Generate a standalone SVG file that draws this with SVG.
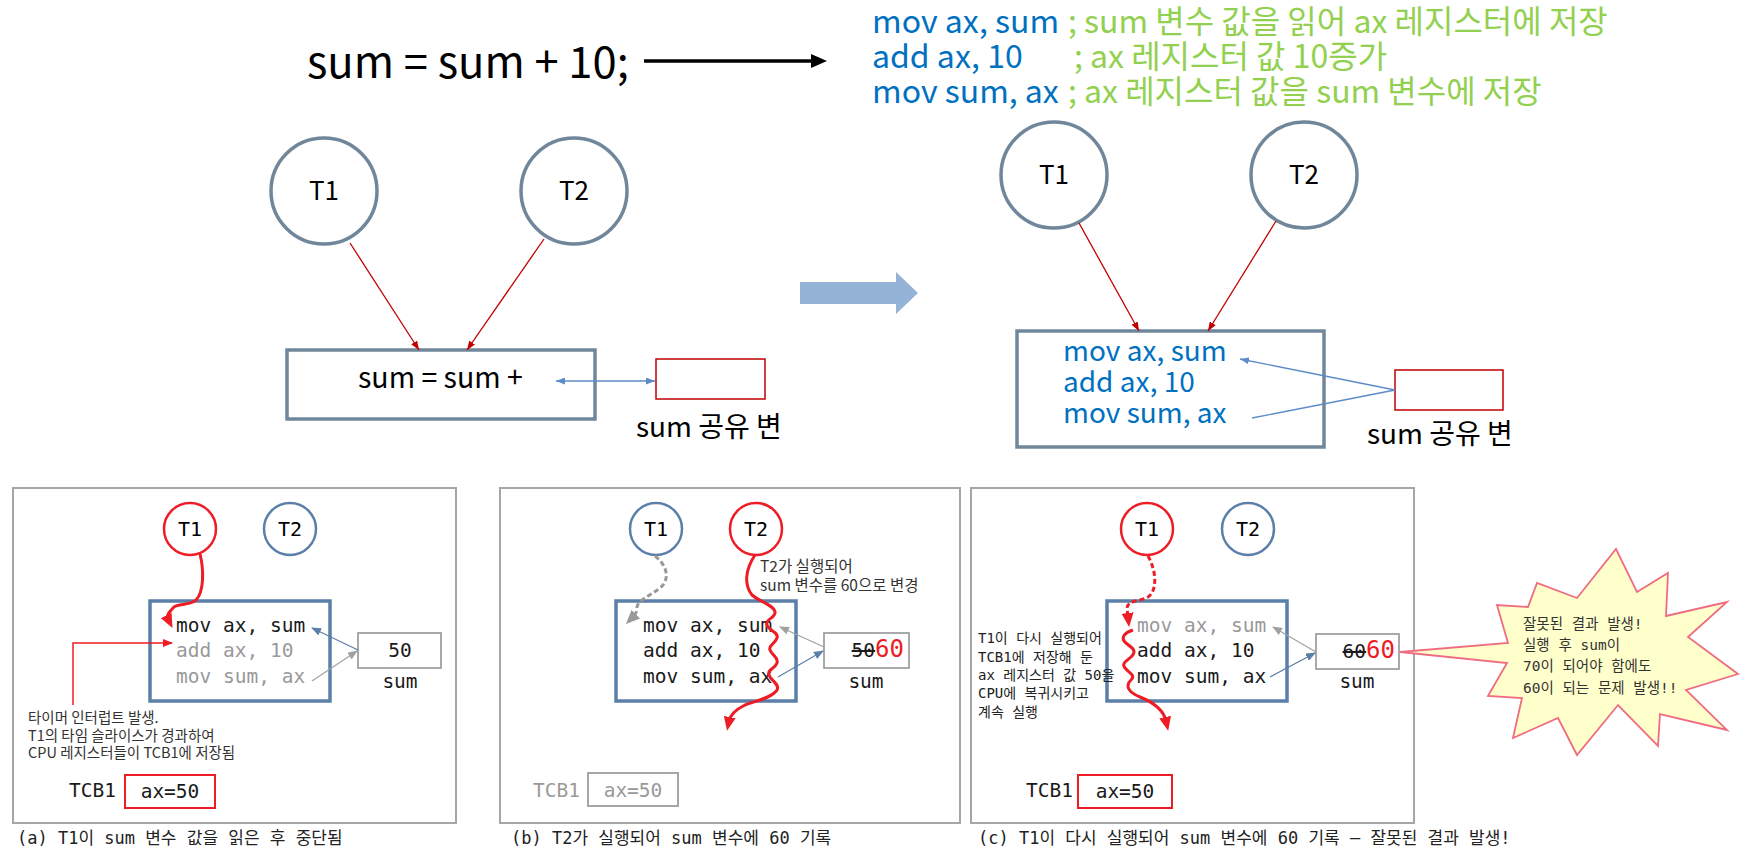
<svg xmlns="http://www.w3.org/2000/svg" width="1748" height="856" viewBox="0 0 1748 856">
<style>
.sans{font-family:"Noto Sans CJK KR","Noto Sans",sans-serif;}
.mono{font-family:"DejaVu Sans Mono","Noto Sans CJK KR",monospace;}
.bigc{fill:#fff;stroke:#70869A;stroke-width:3.5;}
.bigbox{fill:#fff;stroke:#70869A;stroke-width:3.5;}
.frame{fill:#fff;stroke:#A6A6A6;stroke-width:2;}
.cbox{fill:#fff;stroke:#5B7FA8;stroke-width:3.5;}
.rc{fill:#fff;stroke:#EE1C24;stroke-width:2.5;}
.bc{fill:#fff;stroke:#5B7FA8;stroke-width:2.5;}
.sbox{fill:#fff;stroke:#A0A0A0;stroke-width:1.8;}
.code{font-size:19.5px;fill:#1a1a1a;}
.dim{fill:#999;}
.blue{fill:#0070C0;}
.green{fill:#92D050;}
.note{fill:#333;}
</style>
<defs>
<marker id="blackArrow" viewBox="0 0 16 14" markerWidth="16" markerHeight="14" refX="4" refY="7" markerUnits="userSpaceOnUse" orient="auto"><path d="M0,0 L16,7 L0,14 z" fill="#000"/></marker>
<marker id="darkRed" viewBox="0 0 9 7" markerWidth="9" markerHeight="7" refX="9" refY="3.5" markerUnits="userSpaceOnUse" orient="auto"><path d="M0,0 L9,3.5 L0,7 z" fill="#C00000"/></marker>
<marker id="blueMid" viewBox="0 0 9 7" markerWidth="9" markerHeight="7" refX="9" refY="3.5" markerUnits="userSpaceOnUse" orient="auto-start-reverse"><path d="M0,0 L9,3.5 L0,7 z" fill="#5B8CC8"/></marker>
<marker id="redArrow" viewBox="0 0 14 12" markerWidth="14" markerHeight="12" refX="4" refY="6" markerUnits="userSpaceOnUse" orient="auto"><path d="M0,0 L14,6 L0,12 z" fill="#EE1C24"/></marker>
<marker id="grayArrow" viewBox="0 0 14 12" markerWidth="14" markerHeight="12" refX="4" refY="6" markerUnits="userSpaceOnUse" orient="auto"><path d="M0,0 L14,6 L0,12 z" fill="#999"/></marker>
<marker id="redSm" viewBox="0 0 10 8" markerWidth="10" markerHeight="8" refX="9" refY="4" markerUnits="userSpaceOnUse" orient="auto"><path d="M0,0 L10,4 L0,8 z" fill="#EE1C24"/></marker>
<marker id="blueSm" viewBox="0 0 10 8" markerWidth="10" markerHeight="8" refX="9" refY="4" markerUnits="userSpaceOnUse" orient="auto"><path d="M0,0 L10,4 L0,8 z" fill="#5B7FA8"/></marker>
<marker id="graySm" viewBox="0 0 10 8" markerWidth="10" markerHeight="8" refX="9" refY="4" markerUnits="userSpaceOnUse" orient="auto"><path d="M0,0 L10,4 L0,8 z" fill="#A0A0A0"/></marker>
</defs>
<rect width="1748" height="856" fill="#fff"/>

<!-- Top -->
<g id="top-statement">
<text class="sans" x="307" y="78" font-size="43.5" fill="#000">sum = sum + 10;</text>
</g>
<g id="top-code" class="sans" font-size="32">
<text x="872" y="33" class="blue">mov ax, sum</text>
<text x="1068" y="33" class="green">; sum 변수 값을 읽어 ax 레지스터에 저장</text>
<text x="872" y="68" class="blue">add ax, 10</text>
<text x="1074" y="68" class="green">; ax 레지스터 값 10증가</text>
<text x="872" y="103" class="blue">mov sum, ax</text>
<text x="1068" y="103" class="green">; ax 레지스터 값을 sum 변수에 저장</text>
</g>

<!-- Middle left -->
<g id="mid-left-T1"><circle class="bigc" cx="324" cy="191" r="53"/><text class="sans" x="324" y="200" font-size="26" text-anchor="middle">T1</text></g>
<g id="mid-left-T2"><circle class="bigc" cx="574" cy="191" r="53"/><text class="sans" x="574" y="200" font-size="26" text-anchor="middle">T2</text></g>
<g id="mid-left-code"><rect class="bigbox" x="287" y="350" width="308" height="69"/><text class="sans" x="358" y="388" font-size="28.5">sum = sum +</text></g>
<g id="mid-left-var"><rect x="656" y="359" width="109" height="40" fill="#fff" stroke="#C00000" stroke-width="1.5"/><text class="sans" x="636" y="437" font-size="28">sum 공유 변</text></g>

<!-- Block arrow -->
<g id="block-arrow"><polygon points="800,282 896,282 896,272 918,293 896,314 896,304 800,304" fill="#95B3D7"/></g>

<!-- Middle right -->
<g id="mid-right-T1"><circle class="bigc" cx="1054" cy="175" r="53"/><text class="sans" x="1054" y="184" font-size="26" text-anchor="middle">T1</text></g>
<g id="mid-right-T2"><circle class="bigc" cx="1304" cy="175" r="53"/><text class="sans" x="1304" y="184" font-size="26" text-anchor="middle">T2</text></g>
<g id="mid-right-code"><rect class="bigbox" x="1017" y="331" width="307" height="116"/>
<text class="sans blue" x="1063" y="361" font-size="28">mov ax, sum</text>
<text class="sans blue" x="1063" y="392" font-size="28">add ax, 10</text>
<text class="sans blue" x="1063" y="423" font-size="28">mov sum, ax</text></g>
<g id="mid-right-var"><rect x="1395" y="370" width="108" height="40" fill="#fff" stroke="#C00000" stroke-width="1.5"/><text class="sans" x="1367" y="444" font-size="28">sum 공유 변</text></g>

<!-- Panel frames -->
<g id="panel-a-frame"><rect class="frame" x="13" y="488" width="443" height="335"/></g>
<g id="panel-b-frame"><rect class="frame" x="500" y="488" width="460" height="335"/></g>
<g id="panel-c-frame"><rect class="frame" x="971" y="488" width="443" height="335"/></g>

<!-- Panel a -->
<g id="a-T1"><circle class="rc" cx="190" cy="529" r="26"/><text class="mono" x="190" y="536" font-size="20" text-anchor="middle">T1</text></g>
<g id="a-T2"><circle class="bc" cx="290" cy="529" r="26"/><text class="mono" x="290" y="536" font-size="20" text-anchor="middle">T2</text></g>
<g id="a-code"><rect class="cbox" x="150" y="601" width="180" height="100"/>
<text class="mono code" x="176" y="632">mov ax, sum</text>
<text class="mono code dim" x="176" y="657">add ax, 10</text>
<text class="mono code dim" x="176" y="683">mov sum, ax</text></g>
<g id="a-sum"><rect class="sbox" x="358" y="633" width="83" height="35"/>
<text class="mono code" x="400" y="657" text-anchor="middle">50</text>
<text class="mono code" x="400" y="688" text-anchor="middle">sum</text></g>
<g id="a-note"><text class="sans note" font-size="14.5"><tspan x="28" y="723">타이머 인터럽트 발생.</tspan><tspan x="28" y="741">T1의 타임 슬라이스가 경과하여</tspan><tspan x="28" y="758">CPU 레지스터들이 TCB1에 저장됨</tspan></text></g>
<g id="a-tcb"><text class="mono code" x="69" y="797">TCB1</text><rect x="125" y="775" width="90" height="33" fill="#fff" stroke="#EE1C24" stroke-width="2"/><text class="mono code" x="170" y="798" text-anchor="middle">ax=50</text></g>
<g id="a-caption"><text class="mono" x="17" y="844" font-size="17" fill="#222">(a) T1이 sum 변수 값을 읽은 후 중단됨</text></g>

<!-- Panel b -->
<g id="b-T1"><circle class="bc" cx="656" cy="529" r="26"/><text class="mono" x="656" y="536" font-size="20" text-anchor="middle">T1</text></g>
<g id="b-T2"><circle class="rc" cx="756" cy="529" r="26"/><text class="mono" x="756" y="536" font-size="20" text-anchor="middle">T2</text></g>
<g id="b-code"><rect class="cbox" x="616" y="601" width="180" height="100"/>
<text class="mono code" x="643" y="632">mov ax, sum</text>
<text class="mono code" x="643" y="657">add ax, 10</text>
<text class="mono code" x="643" y="683">mov sum, ax</text></g>
<g id="b-sum"><rect class="sbox" x="824" y="633" width="85" height="35"/>
<text class="mono code" x="904" y="657" text-anchor="end"><tspan text-decoration="line-through">50</tspan><tspan fill="#EE1C24" font-size="24">60</tspan></text>
<text class="mono code" x="866" y="688" text-anchor="middle">sum</text></g>
<g id="b-note"><text class="sans note" font-size="15.5"><tspan x="760" y="572">T2가 실행되어</tspan><tspan x="760" y="591">sum 변수를 60으로 변경</tspan></text></g>
<g id="b-tcb"><text class="mono code dim" x="533" y="797">TCB1</text><rect x="588" y="773" width="90" height="33" fill="#fff" stroke="#A6A6A6" stroke-width="2"/><text class="mono code dim" x="633" y="797" text-anchor="middle">ax=50</text></g>
<g id="b-caption"><text class="mono" x="511" y="844" font-size="17" fill="#222">(b) T2가 실행되어 sum 변수에 60 기록</text></g>

<!-- Panel c -->
<g id="c-T1"><circle class="rc" cx="1147" cy="529" r="26"/><text class="mono" x="1147" y="536" font-size="20" text-anchor="middle">T1</text></g>
<g id="c-T2"><circle class="bc" cx="1248" cy="529" r="26"/><text class="mono" x="1248" y="536" font-size="20" text-anchor="middle">T2</text></g>
<g id="c-code"><rect class="cbox" x="1107" y="601" width="180" height="100"/>
<text class="mono code dim" x="1137" y="632">mov ax, sum</text>
<text class="mono code" x="1137" y="657">add ax, 10</text>
<text class="mono code" x="1137" y="683">mov sum, ax</text></g>
<g id="c-sum"><rect class="sbox" x="1316" y="634" width="83" height="35"/>
<text class="mono code" x="1395" y="658" text-anchor="end"><tspan text-decoration="line-through">60</tspan><tspan fill="#EE1C24" font-size="24">60</tspan></text>
<text class="mono code" x="1357" y="688" text-anchor="middle">sum</text></g>
<g id="c-note"><text class="mono" font-size="14" fill="#222"><tspan x="978" y="643">T1이 다시 실행되어</tspan><tspan x="978" y="662">TCB1에 저장해 둔</tspan><tspan x="978" y="680">ax 레지스터 값 50을</tspan><tspan x="978" y="698">CPU에 복귀시키고</tspan><tspan x="978" y="717">계속 실행</tspan></text></g>
<g id="c-tcb"><text class="mono code" x="1026" y="797">TCB1</text><rect x="1078" y="775" width="94" height="33" fill="#fff" stroke="#EE1C24" stroke-width="2"/><text class="mono code" x="1125" y="798" text-anchor="middle">ax=50</text></g>
<g id="c-caption"><text class="mono" x="978" y="844" font-size="17" fill="#222">(c) T1이 다시 실행되어 sum 변수에 60 기록 – 잘못된 결과 발생!</text></g>

<!-- Starburst -->
<g id="starburst">
<polygon points="1400,652 1508,643 1497,605 1528,607 1537,583 1577,598 1616,549 1637,592 1668,573 1666,616 1727,602 1688,637 1738,674 1686,690 1727,730 1660,714 1658,746 1618,705 1577,755 1558,718 1513,738 1522,698 1488,696 1507,663" fill="#FFFFCC" stroke="#F06C80" stroke-width="1.8" stroke-linejoin="miter"/>
<text class="mono" font-size="14.5" fill="#333"><tspan x="1523" y="629">잘못된 결과 발생!</tspan><tspan x="1523" y="650">실행 후 sum이</tspan><tspan x="1523" y="671">70이 되어야 함에도</tspan><tspan x="1523" y="693">60이 되는 문제 발생!!</tspan></text>
</g>

<!-- Connectors -->
<g id="connectors" fill="none">
<line x1="644" y1="61" x2="815" y2="61" stroke="#000" stroke-width="3.5" marker-end="url(#blackArrow)"/>
<line x1="350" y1="243" x2="419" y2="350" stroke="#C00000" stroke-width="1.3" marker-end="url(#darkRed)"/>
<line x1="544" y1="239" x2="467" y2="350" stroke="#C00000" stroke-width="1.3" marker-end="url(#darkRed)"/>
<line x1="556" y1="381" x2="655" y2="381" stroke="#5B8CC8" stroke-width="1.3" marker-start="url(#blueMid)" marker-end="url(#blueMid)"/>
<line x1="1079" y1="223" x2="1139" y2="331" stroke="#C00000" stroke-width="1.3" marker-end="url(#darkRed)"/>
<line x1="1276" y1="221" x2="1208" y2="331" stroke="#C00000" stroke-width="1.3" marker-end="url(#darkRed)"/>
<line x1="1395" y1="390" x2="1240" y2="359" stroke="#5B8CC8" stroke-width="1.3" marker-end="url(#blueMid)"/>
<line x1="1395" y1="390" x2="1252" y2="418" stroke="#5B8CC8" stroke-width="1.3"/>

<path d="M200,554 C204,570 204,592 196,600 C190,606 178,603 174,607 C170,611 166,615 168,619" stroke="#EE1C24" stroke-width="3" marker-end="url(#redArrow)"/>
<path d="M73,705 L73,643 L172,643" stroke="#EE1C24" stroke-width="1.5" marker-end="url(#redSm)"/>
<line x1="358" y1="650" x2="312" y2="628" stroke="#5B7FA8" stroke-width="1.2" marker-end="url(#blueSm)"/>
<line x1="312" y1="681" x2="357" y2="651" stroke="#A0A0A0" stroke-width="1.2" marker-end="url(#graySm)"/>

<path d="M655,556 C668,566 670,580 660,588 C650,596 638,600 637,607 C637,612 635,615 633,617" stroke="#999" stroke-width="3" stroke-dasharray="5,3" marker-end="url(#grayArrow)"/>
<path d="M755,555 C745,570 744,585 752,595 C760,602 776,606 775,613 C774,619 765,619 767,625 C769,631 779,632 777,638 C775,644 768,645 770,650 C772,656 779,657 777,663 C775,669 767,669 769,675 C771,681 780,684 777,690 C772,698 755,701 745,705 C735,710 730,716 729,721" stroke="#EE1C24" stroke-width="3" marker-end="url(#redArrow)"/>
<line x1="824" y1="647" x2="780" y2="627" stroke="#A0A0A0" stroke-width="1.2" marker-end="url(#graySm)"/>
<line x1="778" y1="677" x2="823" y2="651" stroke="#5B7FA8" stroke-width="1.2" marker-end="url(#blueSm)"/>

<path d="M1148,556 C1156,570 1158,590 1148,597 C1138,602 1128,600 1127,608 L1128,617" stroke="#EE1C24" stroke-width="3" stroke-dasharray="5,3" marker-end="url(#redArrow)"/>
<path d="M1133,630 C1124,633 1120,638 1126,643 C1132,648 1137,650 1132,656 C1127,661 1121,663 1125,668 C1129,673 1136,675 1131,680 C1125,686 1128,692 1140,697 C1155,703 1164,712 1166,721" stroke="#EE1C24" stroke-width="3" marker-end="url(#redArrow)"/>
<line x1="1316" y1="652" x2="1273" y2="627" stroke="#A0A0A0" stroke-width="1.2" marker-end="url(#graySm)"/>
<line x1="1270" y1="677" x2="1315" y2="653" stroke="#5B7FA8" stroke-width="1.2" marker-end="url(#blueSm)"/>
</g>
</svg>
